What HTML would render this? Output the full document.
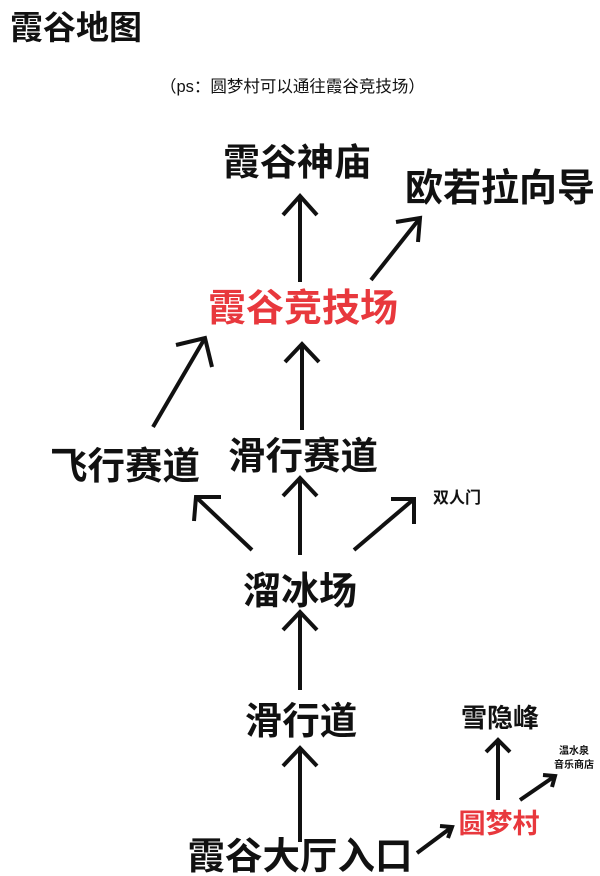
<!DOCTYPE html>
<html><head><meta charset="utf-8"><style>
html,body{margin:0;padding:0;background:#fff;}
svg{display:block}
text{font-family:"Liberation Sans","Noto Sans CJK SC",sans-serif;font-weight:bold;fill:#111}
</style></head><body>
<svg width="600" height="876" viewBox="0 0 600 876" xmlns="http://www.w3.org/2000/svg">
<text x="10" y="39" font-size="33">霞谷地图</text>
<text x="160" y="92" font-size="16.5" style="font-weight:normal">（ps：圆梦村可以通往霞谷竞技场）</text>
<text x="297" y="175" font-size="37" text-anchor="middle">霞谷神庙</text>
<text x="500" y="201" font-size="38" text-anchor="middle">欧若拉向导</text>
<text x="303" y="321" font-size="38" text-anchor="middle" style="fill:#e8383d">霞谷竞技场</text>
<text x="125" y="479" font-size="37.5" text-anchor="middle">飞行赛道</text>
<text x="303" y="469" font-size="37.5" text-anchor="middle">滑行赛道</text>
<text x="457" y="503" font-size="16" text-anchor="middle">双人门</text>
<text x="300" y="604" font-size="38" text-anchor="middle">溜冰场</text>
<text x="301" y="734" font-size="37.5" text-anchor="middle">滑行道</text>
<text x="500" y="727" font-size="26" text-anchor="middle">雪隐峰</text>
<text x="574" y="754" font-size="10" text-anchor="middle">温水泉</text>
<text x="574" y="768" font-size="10" text-anchor="middle">音乐商店</text>
<text x="499" y="833" font-size="27" text-anchor="middle" style="fill:#e8383d">圆梦村</text>
<text x="300" y="869" font-size="37.5" text-anchor="middle">霞谷大厅入口</text>
<g stroke="#111" stroke-width="4" fill="none" stroke-linejoin="miter">
<line x1="300" y1="282" x2="300" y2="196"/><path d="M283,215 L300,196 L317,215"/>
<line x1="371" y1="280" x2="420" y2="218"/><path d="M396,222 L420,218 L418,242"/>
<line x1="302" y1="430" x2="302" y2="344"/><path d="M285,362 L302,344 L319,362"/>
<line x1="153" y1="427" x2="205" y2="338"/><path d="M176,345 L205,338 L212,367"/>
<line x1="300" y1="555" x2="300" y2="478"/><path d="M283,496 L300,478 L317,496"/>
<line x1="252" y1="550" x2="196" y2="497"/><path d="M194,521 L196,497 L221,497"/>
<line x1="354" y1="550" x2="414" y2="499"/><path d="M391,499 L414,499 L414,524"/>
<line x1="300" y1="690" x2="300" y2="612"/><path d="M283,630 L300,612 L317,630"/>
<line x1="300" y1="842" x2="300" y2="748"/><path d="M283,766 L300,748 L317,766"/>
<line x1="417" y1="853" x2="452" y2="827"/><path d="M440,826 L452,827 L448,838"/>
<line x1="498" y1="800" x2="498" y2="740"/><path d="M486,752 L498,740 L510,752"/>
<line x1="520" y1="800" x2="555" y2="776"/><path d="M543,775 L555,776 L552,787"/>
</g>
</svg>
</body></html>
